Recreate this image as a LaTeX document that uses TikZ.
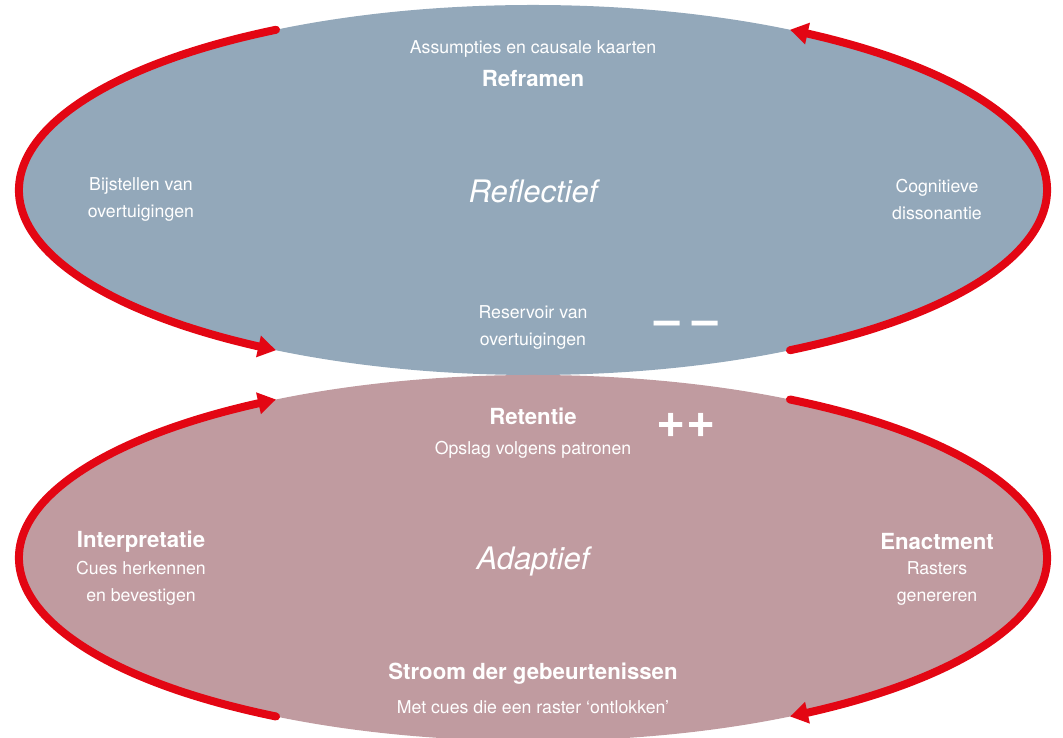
\documentclass[tikz,border=0pt]{standalone}
\usepackage{fontspec}
\setmainfont{TeX Gyre Heros}
\usetikzlibrary{arrows.meta, bending}

\definecolor{reflectblue}{HTML}{93A8BA}
\definecolor{adaptrose}{HTML}{C09BA0}
\definecolor{cyclered}{HTML}{E30613}

\tikzset{
  plain txt/.style={text=white, align=center, font=\fontsize{17.7}{27}\selectfont},
  head txt/.style={text=white, align=center, font=\bfseries\fontsize{22.2}{27}\selectfont},
  mode txt/.style={text=white, font=\itshape\fontsize{31}{36}\selectfont},
  sign txt/.style={text=white, anchor=base, inner sep=0pt, font=\bfseries\fontsize{46}{50}\selectfont},
  cycle arrow/.style={draw=cyclered, line width=8pt, line cap=round,
    -{Triangle[length=18pt, width=21pt, bend]}},
}

\begin{document}
\begin{tikzpicture}[x=1pt, y=1pt]
  \useasboundingbox (0,0) rectangle (1063,738);

  % 1. beide ellipsen
  \coordinate (refl-c) at (533,548);
  \coordinate (adap-c) at (533,180);
  \fill[reflectblue] (refl-c) ellipse [x radius=514, y radius=185];
  \fill[adaptrose] (adap-c) ellipse [x radius=514, y radius=183];

  % 2. rode pijlen langs de rand
  \draw[cycle arrow] (refl-c) ++(120:514 and 185)
    arc[start angle=120, end angle=240, x radius=514, y radius=185];
  \draw[cycle arrow] (refl-c) ++(-60:514 and 185)
    arc[start angle=-60, end angle=60, x radius=514, y radius=185];
  \draw[cycle arrow] (adap-c) ++(240:514 and 183)
    arc[start angle=240, end angle=120, x radius=514, y radius=183];
  \draw[cycle arrow] (adap-c) ++(60:514 and 183)
    arc[start angle=60, end angle=-60, x radius=514, y radius=183];

  % 3. teksten bovenste ellips (reflectief)
  \node[plain txt] (assump) at (533,689) {Assumpties en causale kaarten};
  \node[head txt] (reframe) at (533,659) {Reframen};
  \node[mode txt] (reflect) at (533,547) {Reflectief};
  \node[plain txt] (bijstel) at (141,538.5) {Bijstellen van\\overtuigingen};
  \node[plain txt] (cogn) at (937,538.5) {Cognitieve\\dissonantie};
  \node[plain txt] (reservoir) at (533,410.5) {Reservoir van\\overtuigingen};
  \node[sign txt] (minus) at (686,402) {– –};

  % 4. teksten onderste ellips (adaptief)
  \node[head txt] (retentie) at (533,322) {Retentie};
  \node[plain txt] (opslag) at (533,288) {Opslag volgens patronen};
  \node[sign txt, font=\bfseries\fontsize{50}{54}\selectfont] (plus) at (686,300) {++};
  \node[mode txt] (adapt) at (533,177) {Adaptief};
  \node[head txt] (interp) at (141,196) {Interpretatie};
  \node[plain txt] (interp-sub) at (141,154.5) {Cues herkennen\\en bevestigen};
  \node[head txt] (enact) at (937,196) {Enactment};
  \node[plain txt] (enact-sub) at (937,154.5) {Rasters\\genereren};
  \node[head txt] (stroom) at (533,64) {Stroom der gebeurtenissen};
  \node[plain txt] (metcues) at (533,31) {Met cues die een raster ‘ontlokken’};
\end{tikzpicture}
\end{document}
